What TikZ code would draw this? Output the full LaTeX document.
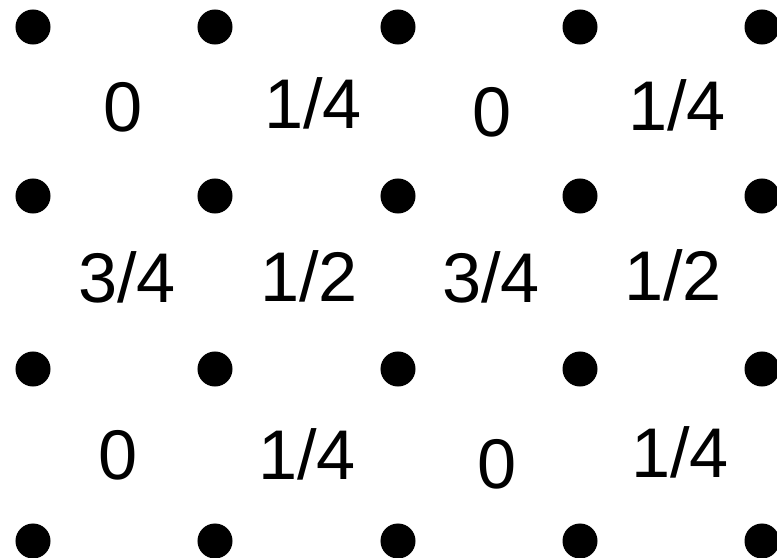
\documentclass[tikz,border=0pt]{standalone}
\usepackage{fontspec}
\setmainfont{Liberation Sans}
\usepackage{tikz}

\begin{document}
\begin{tikzpicture}[x=0.025cm, y=-0.025cm, font=\fontsize{50}{60}\selectfont,
		atom/.style={draw=none, circle, fill=black, inner sep=0pt, minimum size=0.875cm},
		height/.style={inner sep=0pt}]
				\useasboundingbox (0,0) rectangle (777,558);
				% lattice points
				\foreach \r/\y in {1/27, 2/196, 3/369, 4/541}
					\foreach \c/\x in {1/33, 2/215, 3/398, 4/580, 5/762}
						\node[atom] (d-\r-\c) at (\x, \y) {};
				
				% heights
				\node[height] (h11) at (123, 107) {0};
				\node[height] (h12) at (313, 103) {1/4};
				\node[height] (h13) at (492, 112) {0};
				\node[height] (h14) at (677, 105) {1/4};
				
				\node[height] (h21) at (127, 277) {3/4};
				\node[height] (h22) at (309, 276) {1/2};
				\node[height] (h23) at (491, 277) {3/4};
				\node[height] (h24) at (673, 275) {1/2};
				
				\node[height] (h31) at (118, 455) {0};
				\node[height] (h32) at (307, 454) {1/4};
				\node[height] (h33) at (497, 464) {0};
				\node[height] (h34) at (680, 452) {1/4};
			\end{tikzpicture}
\end{document}
